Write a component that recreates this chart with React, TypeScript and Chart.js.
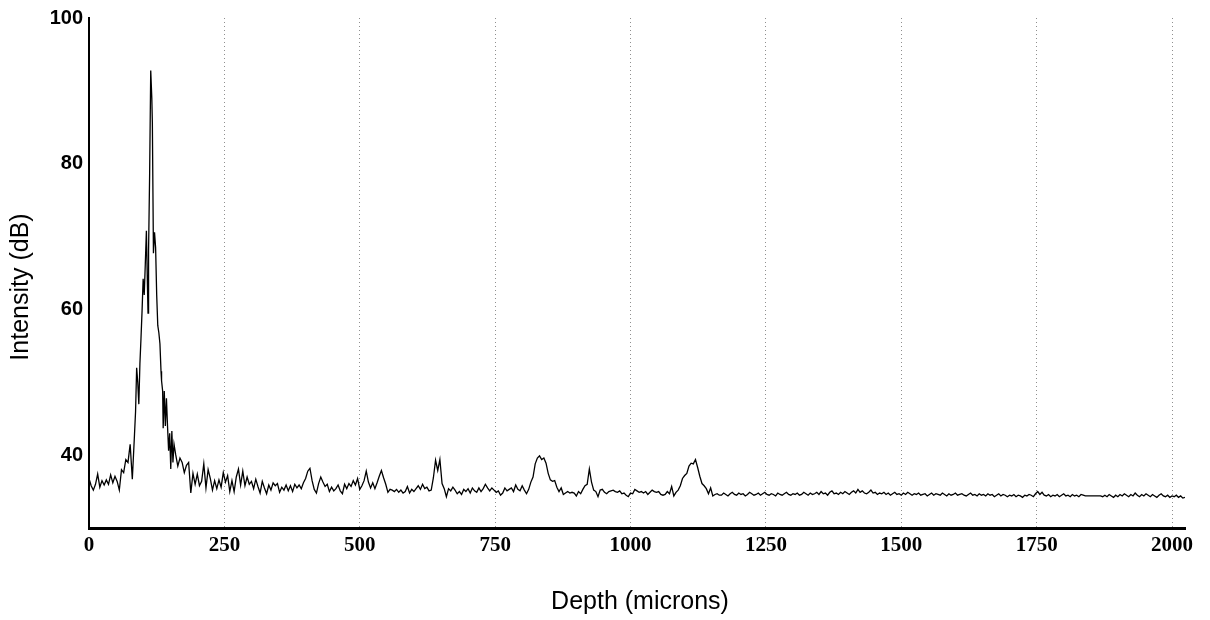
import { useEffect, useRef } from "react";
import { Chart, registerables } from "chart.js";

Chart.register(...registerables);

// Spacing (µm) of the regularly sampled parts of the A-scan
const SAMPLE_STEP = 4;

// Near-surface samples, 0–84 µm
const surfaceStart = 0;
const surfaceIntensity = [
  36.8, 35.8, 35.2, 36.0, 37.4, 35.6, 36.5, 35.9, 36.6, 36.0, 37.3,
  36.2, 37.1, 36.4, 35.2, 38.0, 37.6, 39.4, 39.0, 41.5, 36.7, 42.8,
];

// Main reflection, sampled more finely
const peakDepth = [
  86, 88, 90, 92, 94, 96, 98, 100, 102, 104,
  106, 108, 109, 110, 112, 114, 116, 117, 119, 121,
  123, 125, 127, 129, 131, 133, 134, 136, 137, 139,
  141, 143, 145, 147, 149, 151, 153, 155, 157,
];
const peakIntensity = [
  46.0, 52.0, 50.0, 47.0, 52.5, 56.0, 59.8, 64.2, 62.0, 66.3,
  70.8, 63.0, 59.5, 68.0, 78.7, 92.8, 89.0, 85.7, 67.7, 70.6,
  68.5, 62.0, 57.8, 56.8, 55.3, 51.5, 50.2, 48.8, 43.7, 48.8,
  44.0, 47.8, 44.0, 40.6, 43.0, 38.1, 43.3, 39.0, 41.5,
];

// Deeper samples, 160–2024 µm
const tailStart = 160;
const tailIntensity = [
  // 160–336
  40.1, 38.5, 39.6, 39.0, 37.6, 38.6, 39.0, 34.8, 37.5, 36.0, 37.4,
  35.8, 36.4, 38.8, 35.5, 38.0, 36.8, 35.2, 36.5, 35.4, 36.6, 35.6,
  37.6, 36.3, 37.2, 35.0, 36.5, 35.0, 37.0, 38.1, 35.9, 37.8, 35.8,
  37.0, 36.0, 36.4, 35.4, 36.7, 35.7, 34.8, 36.4, 35.5, 34.7, 35.9,
  35.2,
  // 340–672
  36.2, 35.8, 36.1, 34.9, 35.6, 35.2, 35.9, 35.1, 35.8, 35.0, 36.0,
  35.5, 35.9, 35.4, 36.2, 36.8, 37.8, 38.2, 36.5, 35.3, 34.8, 36.1,
  37.0, 36.3, 35.7, 36.0, 35.0, 35.6, 35.1, 35.4, 35.9, 35.1, 34.7,
  36.0, 35.4, 36.1, 35.7, 36.5, 35.9, 36.8, 35.3, 35.8, 36.5, 37.8,
  36.3, 35.5, 36.2, 35.4, 36.2, 37.1, 37.9, 36.9, 36.0, 34.9, 35.3,
  35.2, 35.0, 35.3, 34.9, 35.2, 34.8, 35.0, 35.7, 34.8, 35.3, 35.0,
  35.4, 35.8, 35.3, 36.0, 35.4, 35.6, 35.1, 35.2, 36.9, 39.3, 37.9,
  39.4, 36.1, 35.4, 34.3, 35.4, 35.1, 35.6,
  // 676–1012
  35.2, 34.7, 35.0, 34.6, 35.3, 35.0, 35.4, 34.8, 35.5, 35.1, 34.9,
  35.5, 35.0, 35.4, 36.0, 35.5, 35.1, 35.5, 35.2, 34.9, 35.1, 34.5,
  34.8, 35.5, 35.1, 35.3, 35.5, 35.0, 35.9, 35.3, 35.1, 35.8, 35.2,
  34.7, 35.3, 36.3, 37.0, 38.8, 39.6, 39.9, 39.4, 39.6, 38.9, 37.5,
  36.6, 36.4, 36.5, 35.6, 35.0, 35.5, 34.6, 34.8, 35.0, 34.8, 34.9,
  34.8, 34.4, 35.0, 34.7, 35.3, 35.8, 36.0, 38.1, 36.3, 35.2, 35.0,
  34.3, 35.2, 35.3, 34.9, 34.7, 35.0, 35.1, 35.2, 35.0, 34.9, 35.1,
  34.7, 34.8, 34.5, 34.3, 34.8, 34.7, 35.3, 35.1,
  // 1016–1164
  34.9, 35.0, 34.8, 35.0, 34.6, 34.9, 35.2, 35.0, 34.9, 35.0, 34.6,
  34.5, 34.6, 35.0, 34.7, 35.7, 34.4, 34.9, 35.2, 35.8, 36.8, 37.2,
  37.5, 38.5, 38.9, 38.8, 39.4, 38.3, 37.1, 36.1, 35.8, 35.4, 34.7,
  35.5, 34.4, 34.6, 34.7, 34.5,
  // 1168–2024
  34.5, 34.8, 34.6, 34.4, 34.7, 34.9, 34.6, 34.5, 34.8, 34.6, 34.7,
  34.4, 34.6, 34.9, 34.7, 34.5, 34.6, 34.8, 34.5, 34.7, 34.9, 34.6,
  34.5, 34.7, 34.6, 34.4, 34.8, 34.6, 34.5, 34.7, 34.9, 34.6, 34.5,
  34.7, 34.6, 34.8, 34.5, 34.6, 34.9, 34.7, 34.5, 34.8, 34.6, 34.7,
  34.9, 34.6, 35.0, 34.7, 34.8, 34.5, 34.9, 35.1, 34.7, 34.8, 34.6,
  34.9, 34.7, 35.0, 34.8, 34.6, 34.9, 35.1, 34.8, 35.3, 34.9, 35.1,
  34.8, 34.7, 34.9, 35.2, 34.8, 34.9, 34.6, 34.8, 34.7, 34.9, 34.6,
  34.8, 34.5, 34.7, 34.9, 34.6, 34.7, 34.5, 34.8, 34.6, 34.9, 34.7,
  34.5, 34.7, 34.6, 34.8, 34.5, 34.6, 34.7, 34.4, 34.6, 34.8, 34.5,
  34.7, 34.6, 34.5, 34.8, 34.6, 34.4, 34.7, 34.5, 34.6, 34.8, 34.5,
  34.6, 34.7, 34.5, 34.4, 34.6, 34.8, 34.5, 34.6, 34.4, 34.7, 34.5,
  34.6, 34.4, 34.7, 34.5, 34.6, 34.3, 34.5, 34.7, 34.4, 34.6, 34.5,
  34.3, 34.5, 34.4, 34.6, 34.3, 34.5, 34.4, 34.2, 34.5, 34.4, 34.6,
  34.5, 34.3, 34.7, 35.0, 34.6, 34.9, 34.5, 34.4, 34.6, 34.3, 34.5,
  34.4, 34.6, 34.3, 34.5, 34.7, 34.4, 34.5, 34.3, 34.6, 34.4, 34.5,
  34.3, 34.6, 34.5, 34.4, 34.4, 34.4, 34.4, 34.4, 34.4, 34.4, 34.4,
  34.3, 34.5, 34.3, 34.6, 34.4, 34.2, 34.5, 34.3, 34.6, 34.4, 34.7,
  34.5, 34.3, 34.6, 34.4, 34.8, 34.5, 34.3, 34.6, 34.4, 34.7, 34.5,
  34.3, 34.6, 34.4, 34.2, 34.5, 34.7, 34.4, 34.3, 34.5, 34.2, 34.4,
  34.3, 34.5, 34.2, 34.4, 34.1, 34.2,
];

const depthTicks = [0, 250, 500, 750, 1000, 1250, 1500, 1750, 2000];
const intensityTicks = [40, 60, 80, 100];

const DEPTH_MIN = 0;
const DEPTH_MAX = 2024;
const INTENSITY_MIN = 30;
const INTENSITY_MAX = 100;

const X_TITLE = "Depth (microns)";
const Y_TITLE = "Intensity (dB)";
const TITLE_FONT = "25px 'Liberation Sans', Arial, sans-serif";

function buildPoints() {
  return [
    ...surfaceIntensity.map((y, i) => ({ x: surfaceStart + i * SAMPLE_STEP, y })),
    ...peakDepth.map((x, i) => ({ x, y: peakIntensity[i] })),
    ...tailIntensity.map((y, i) => ({ x: tailStart + i * SAMPLE_STEP, y })),
  ];
}

// Axis titles drawn at fixed spots beside the plot frame
const axisTitles = {
  id: "axisTitles",
  afterDraw(chart: any) {
    const { ctx } = chart;
    ctx.save();
    ctx.fillStyle = "#000000";
    ctx.font = TITLE_FONT;
    ctx.textAlign = "center";
    ctx.textBaseline = "middle";
    ctx.fillText(X_TITLE, 640, 602);
    ctx.translate(21, 287);
    ctx.rotate(-Math.PI / 2);
    ctx.fillText(Y_TITLE, 0, 0);
    ctx.restore();
  },
};

export default function App() {
  const canvasRef = useRef<HTMLCanvasElement | null>(null);

  useEffect(() => {
    const canvas = canvasRef.current;
    if (!canvas) return;

    const chart = new Chart(canvas, {
      type: "line",
      data: {
        datasets: [
          {
            data: buildPoints(),
            borderColor: "#000000",
            borderWidth: 1.3,
            pointRadius: 0,
            tension: 0,
            fill: false,
          },
        ],
      },
      options: {
        animation: false,
        responsive: true,
        maintainAspectRatio: false,
        parsing: false,
        layout: { padding: { top: 18, right: 25, bottom: 0, left: 0 } },
        plugins: {
          legend: { display: false },
          tooltip: { enabled: false },
        },
        scales: {
          x: {
            type: "linear",
            min: DEPTH_MIN,
            max: DEPTH_MAX,
            afterBuildTicks: (scale: any) => {
              scale.ticks = depthTicks.map((value) => ({ value }));
            },
            afterFit: (scale: any) => {
              scale.height = 92;
            },
            ticks: {
              autoSkip: false,
              maxRotation: 0,
              padding: 5,
              color: "#000000",
              font: { family: "'Liberation Serif', serif", size: 21, weight: "bold" },
              callback: (value: any) => String(value),
            },
            grid: {
              display: true,
              drawTicks: false,
              lineWidth: 1,
              color: (ctx: any) =>
                ctx.tick && ctx.tick.value === 0 ? "rgba(0,0,0,0)" : "#8f8f8f",
            },
            border: { display: true, color: "#000000", width: 3, dash: [1, 3] },
            title: { display: false },
          },
          y: {
            type: "linear",
            min: INTENSITY_MIN,
            max: INTENSITY_MAX,
            afterBuildTicks: (scale: any) => {
              scale.ticks = intensityTicks.map((value) => ({ value }));
            },
            afterFit: (scale: any) => {
              scale.width = 89;
            },
            ticks: {
              autoSkip: false,
              padding: 6,
              color: "#000000",
              font: { family: "'Liberation Sans', Arial, sans-serif", size: 20, weight: "bold" },
              callback: (value: any) => String(value),
            },
            grid: { display: false, drawTicks: false },
            border: { display: true, color: "#000000", width: 2 },
            title: { display: false },
          },
        },
      },
      plugins: [axisTitles],
    });

    return () => chart.destroy();
  }, []);

  return (
    <div
      style={{
        position: "fixed",
        left: 0,
        top: 0,
        width: 1210,
        height: 620,
        background: "#ffffff",
      }}
    >
      <canvas ref={canvasRef} />
    </div>
  );
}
